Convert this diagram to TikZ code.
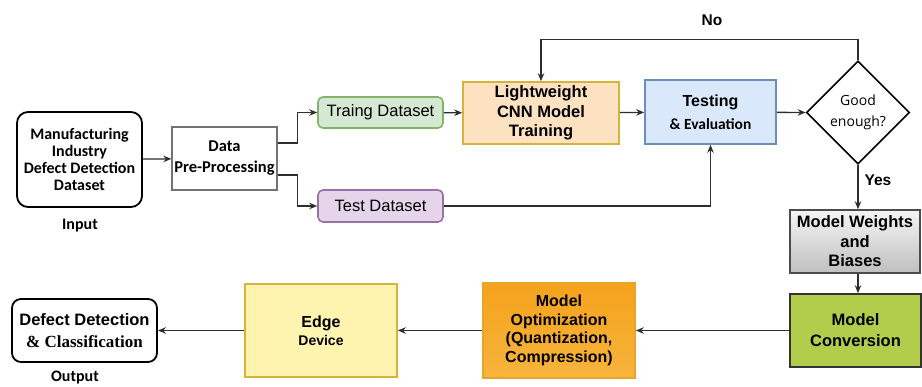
\documentclass[tikz,border=0pt]{standalone}
\usepackage{fontspec}
\setmainfont{Liberation Sans}
\newfontfamily\calfont{Carlito}
\newfontfamily\serfont{Liberation Serif}
\newfontfamily\osfont{Open Sans}
\usetikzlibrary{shapes.geometric,arrows.meta}
\definecolor{linec}{HTML}{2E2E2E}
\definecolor{grnfill}{HTML}{D5E8D4}\definecolor{grnline}{HTML}{82B366}
\definecolor{purfill}{HTML}{E6D5EA}\definecolor{purline}{HTML}{9673A6}
\definecolor{cnnfill}{HTML}{FDE2C2}\definecolor{goldline}{HTML}{D6B43C}
\definecolor{blufill}{HTML}{DAE8FC}\definecolor{bluline}{HTML}{6C8EBF}
\definecolor{convfill}{HTML}{B2CC4C}
\definecolor{optA}{HTML}{F5A21C}\definecolor{optB}{HTML}{F7B43C}\definecolor{optline}{HTML}{E8A52A}
\definecolor{edgefill}{HTML}{FFF3B0}
\tikzset{
  box/.style={draw, line width=1.6pt, align=center, inner sep=1pt, text=black},
  arr/.style={draw=linec, line width=1.3pt, -{Stealth[length=8pt,width=6.5pt]}},
  lbl/.style={inner sep=0pt, text=black}
}
\begin{document}
\begin{tikzpicture}[x=1pt,y=-1pt]
\useasboundingbox[fill=white] (0,0) rectangle (922,387);

\node[box, draw=black, line width=1.8pt, rounded corners=11pt, minimum width=125pt, minimum height=95pt,
  font=\calfont\bfseries\fontsize{16}{17}\selectfont] (inp) at (79.5,159.5)
  {Manufacturing\\Industry\\Defect Detection\\Dataset};
\node[lbl, font=\calfont\bfseries\fontsize{16}{17}\selectfont] (inl) at (80,226) {Input};

\node[box, draw=black!55, line width=1.3pt, minimum width=105pt, minimum height=63pt,
  font=\calfont\bfseries\fontsize{16.5}{21}\selectfont] (pre) at (224.5,158.5) {Data\\Pre-Processing};

\node[box, draw=grnline, fill=grnfill, rounded corners=5pt, minimum width=125pt, minimum height=31pt,
  font=\fontsize{16.5}{18}\selectfont] (trn) at (380.5,112.5) {Traing Dataset};
\node[box, draw=purline, fill=purfill, rounded corners=5pt, minimum width=125pt, minimum height=32pt,
  font=\fontsize{16.5}{18}\selectfont] (tst) at (380.5,206) {Test Dataset};

\node[box, draw=goldline, fill=cnnfill, minimum width=156pt, minimum height=62pt,
  font=\bfseries\fontsize{16.5}{19.5}\selectfont] (cnn) at (541,113) {Lightweight\\CNN Model\\Training};

\node[box, draw=bluline, fill=blufill, minimum width=131pt, minimum height=64pt,
  font=\bfseries\fontsize{16}{23}\selectfont] (eva) at (710.5,112)
  {Testing\\{\calfont\bfseries\fontsize{15.5}{17}\selectfont \& Evaluation}};

\node[draw=black, line width=1.6pt, diamond, minimum width=103pt, minimum height=103pt, inner sep=0pt,
  align=center, font=\osfont\fontsize{14}{21}\selectfont] (good) at (858,112.5) {Good\\enough?};

\node[box, draw=black!70, top color=gray!8, bottom color=gray!50, minimum width=130pt, minimum height=63pt,
  font=\bfseries\fontsize{16.5}{19.5}\selectfont] (mwb) at (855,241.5) {Model Weights\\and\\Biases};

\node[box, draw=black!80, fill=convfill, minimum width=131pt, minimum height=73pt,
  font=\bfseries\fontsize{16.5}{21}\selectfont] (mc) at (855.5,330.5) {Model\\Conversion};

\node[box, draw=optline, top color=optA, bottom color=optB, minimum width=152pt, minimum height=95pt,
  font=\bfseries\fontsize{16}{18.5}\selectfont] (mo) at (559,330.5)
  {Model\\Optimization\\(Quantization,\\Compression)};

\node[box, draw=goldline, fill=edgefill, minimum width=152pt, minimum height=93pt,
  font=\bfseries\fontsize{16}{18}\selectfont] (ed) at (321,330.5)
  {Edge\\{\fontsize{14}{16}\selectfont Device}};

\node[box, draw=black, line width=1.8pt, rounded corners=9pt, minimum width=145pt, minimum height=63pt,
  font=\bfseries\fontsize{16.5}{22}\selectfont] (out) at (84.5,330.5)
  {Defect Detection\\{\serfont\bfseries\fontsize{17}{19}\selectfont \& Classification}};
\node[lbl, font=\calfont\bfseries\fontsize{16}{17}\selectfont] (outl) at (75,378) {Output};

\node[lbl, font=\bfseries\fontsize{15.5}{17}\selectfont] (nol) at (712,20) {No};
\node[lbl, font=\bfseries\fontsize{15.5}{17}\selectfont] (yesl) at (878,180) {Yes};

% connectors
\draw[arr] (inp) -- (pre);
\draw[arr] ([yshift=15.5pt]pre.east) -- ++(20,0) |- (trn.west);
\draw[arr] ([yshift=-16.5pt]pre.east) -- ++(20,0) |- (tst.west);
\draw[arr] (trn) -- (cnn);
\draw[arr] (cnn) -- (eva);
\draw[arr] (eva) -- (good.west);
\draw[arr] (good.north) -- ++(0,-21) -| (cnn.north);
\draw[arr] (tst.east) -| (eva.south);
\draw[arr] (good.south) -- (good.south |- mwb.north);
\draw[arr] (good.south |- mwb.south) -- (good.south |- mc.north);
\draw[arr] (mc) -- (mo);
\draw[arr] (mo) -- (ed);
\draw[arr] (ed) -- (out);
\end{tikzpicture}
\end{document}
